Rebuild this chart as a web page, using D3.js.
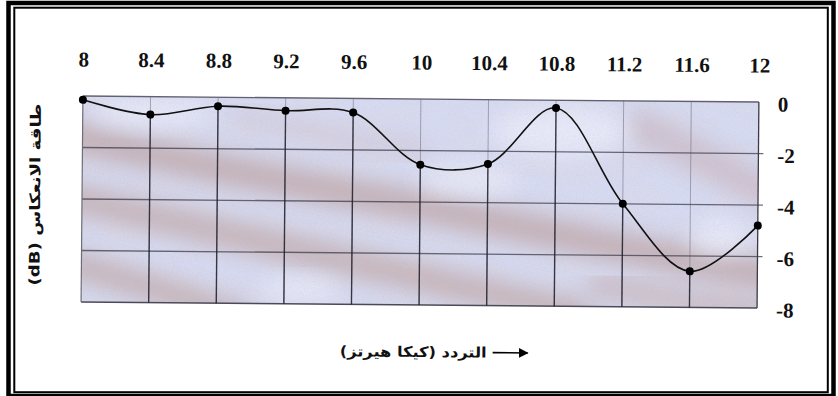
<!DOCTYPE html>
<html>
<head>
<meta charset="utf-8">
<script src="https://cdn.jsdelivr.net/npm/d3@7"></script>
<style>
  html, body { margin: 0; padding: 0; background: #ffffff; }
  svg { display: block; }
</style>
</head>
<body>
<svg id="chart" width="838" height="396"></svg>
<script>
// Return loss of the antenna across the X band
const freqGHz = [8, 8.4, 8.8, 9.2, 9.6, 10, 10.4, 10.8, 11.2, 11.6, 12];
const freqTickLabels = ["8", "8.4", "8.8", "9.2", "9.6", "10", "10.4", "10.8", "11.2", "11.6", "12"];
const returnLossDb = [-0.15, -0.7, -0.35, -0.5, -0.55, -2.55, -2.5, -0.3, -4.0, -6.6, -4.8];
const dbTicks = [0, -2, -4, -6, -8];
const dbTickLabels = ["0", "-2", "-4", "-6", "-8"];
const yTitle = "طاقة الانعكاس (dB)";
const xTitle = "التردد (كيكا هيرتز)";

const plot = { left: 82, right: 758, top: 99, bottom: 305 };

const svg = d3.select("#chart");
const defs = svg.append("defs");

defs.append("clipPath").attr("id", "plotClip")
  .append("rect")
  .attr("x", plot.left).attr("y", plot.top)
  .attr("width", plot.right - plot.left).attr("height", plot.bottom - plot.top);

const soft = defs.append("filter").attr("id", "soft")
  .attr("x", "-40%").attr("y", "-40%").attr("width", "180%").attr("height", "180%");
soft.append("feGaussianBlur").attr("stdDeviation", 11);

const grain = defs.append("filter").attr("id", "grain");
grain.append("feTurbulence").attr("type", "fractalNoise")
  .attr("baseFrequency", 0.9).attr("numOctaves", 1).attr("seed", 4);
grain.append("feColorMatrix").attr("type", "matrix")
  .attr("values", "0 0 0 0 0.45  0 0 0 0 0.40  0 0 0 0 0.55  1.3 0 0 0 -0.55");

const mottle = defs.append("filter").attr("id", "mottle");
mottle.append("feTurbulence").attr("type", "fractalNoise")
  .attr("baseFrequency", "0.02 0.05").attr("numOctaves", 2).attr("seed", 11);
mottle.append("feColorMatrix").attr("type", "matrix")
  .attr("values", "0 0 0 0 0.78  0 0 0 0 0.70  0 0 0 0 0.72  1.6 0 0 0 -0.7");

const arrowHead = defs.append("marker").attr("id", "arrowHead")
  .attr("viewBox", "0 0 10 10").attr("refX", 9).attr("refY", 5)
  .attr("markerWidth", 6.5).attr("markerHeight", 6)
  .attr("markerUnits", "strokeWidth").attr("orient", "auto");
arrowHead.append("path").attr("d", "M0,0 L10,5 L0,10 Z").attr("fill", "#000");

// Double page frame
svg.append("rect").attr("x", 8.5).attr("y", 3).attr("width", 825).attr("height", 393)
  .attr("fill", "none").attr("stroke", "#000").attr("stroke-width", 4.5);
svg.append("rect").attr("x", 14.3).attr("y", 7.7).attr("width", 813.5).attr("height", 384.5)
  .attr("fill", "none").attr("stroke", "#000").attr("stroke-width", 2);

// The chart body sits slightly tilted
const g = svg.append("g").attr("transform", "rotate(0.51, 420, 200)");

const x = d3.scaleLinear().domain([8, 12]).range([plot.left, plot.right]);
const y = d3.scaleLinear().domain([0, -8]).range([plot.top, plot.bottom]);

// Mottled paper background of the plot area
const bg = g.append("g").attr("clip-path", "url(#plotClip)");
bg.append("rect")
  .attr("x", plot.left).attr("y", plot.top)
  .attr("width", plot.right - plot.left).attr("height", plot.bottom - plot.top)
  .attr("fill", "#d7dbf1");

bg.append("rect")
  .attr("x", plot.left).attr("y", plot.top)
  .attr("width", plot.right - plot.left).attr("height", plot.bottom - plot.top)
  .attr("filter", "url(#mottle)").attr("opacity", 0.35);

const band = d3.line().curve(d3.curveBasis);
const bands = [
  { pts: [[30, 130], [200, 168], [330, 190], [450, 212], [600, 242], [720, 264], [820, 280]], w: 30, c: "#bea4a4", o: 0.78 },
  { pts: [[30, 192], [180, 225], [320, 256], [450, 284], [580, 312]], w: 28, c: "#bfa5a3", o: 0.72 },
  { pts: [[30, 255], [140, 286], [240, 318]], w: 26, c: "#bea4a2", o: 0.72 },
  { pts: [[640, 125], [710, 160], [790, 200]], w: 32, c: "#c6adb3", o: 0.55 },
  { pts: [[600, 285], [700, 302], [790, 312]], w: 26, c: "#c3aaaa", o: 0.6 },
  { pts: [[240, 118], [330, 138], [420, 150]], w: 18, c: "#cab3b9", o: 0.38 }
];
bg.selectAll("path.band").data(bands).join("path")
  .attr("class", "band")
  .attr("d", d => band(d.pts))
  .attr("fill", "none")
  .attr("stroke", d => d.c)
  .attr("stroke-width", d => d.w)
  .attr("stroke-linecap", "round")
  .attr("opacity", d => d.o)
  .attr("filter", "url(#soft)");

const highlights = [
  { cx: 150, cy: 115, rx: 60, ry: 14 },
  { cx: 560, cy: 130, rx: 70, ry: 25 },
  { cx: 470, cy: 180, rx: 50, ry: 14 },
  { cx: 720, cy: 235, rx: 30, ry: 18 },
  { cx: 300, cy: 290, rx: 40, ry: 12 }
];
bg.selectAll("ellipse").data(highlights).join("ellipse")
  .attr("cx", d => d.cx).attr("cy", d => d.cy)
  .attr("rx", d => d.rx).attr("ry", d => d.ry)
  .attr("fill", "#eceefa").attr("opacity", 0.75)
  .attr("filter", "url(#soft)");

bg.append("rect")
  .attr("x", plot.left).attr("y", plot.top)
  .attr("width", plot.right - plot.left).attr("height", plot.bottom - plot.top)
  .attr("filter", "url(#grain)").attr("opacity", 0.35);

// Grid: faint full-height verticals, horizontal dB lines
g.append("g").selectAll("line").data(freqGHz.slice(1, -1)).join("line")
  .attr("x1", d => x(d)).attr("x2", d => x(d))
  .attr("y1", plot.top).attr("y2", plot.bottom)
  .attr("stroke", "#6c6c7e").attr("stroke-width", 1).attr("opacity", 0.55);

g.append("g").selectAll("line").data(dbTicks.slice(1, -1)).join("line")
  .attr("x1", plot.left).attr("x2", plot.right + 5)
  .attr("y1", d => y(d)).attr("y2", d => y(d))
  .attr("stroke", "#3e3e4e").attr("stroke-width", 1.3).attr("opacity", 0.75);

// Plot border
const border = g.append("g").attr("fill", "none");
border.append("line").attr("x1", plot.left).attr("x2", plot.right).attr("y1", y(0)).attr("y2", y(0))
  .attr("stroke", "#606070").attr("stroke-width", 1.3);
border.append("line").attr("x1", plot.left).attr("x2", plot.right).attr("y1", y(-8)).attr("y2", y(-8))
  .attr("stroke", "#4a4a58").attr("stroke-width", 1.4);
border.append("line").attr("x1", x(8)).attr("x2", x(8)).attr("y1", y(0)).attr("y2", y(-8))
  .attr("stroke", "#6c6c7a").attr("stroke-width", 1.2);
border.append("line").attr("x1", x(12)).attr("x2", x(12)).attr("y1", y(0)).attr("y2", y(-8))
  .attr("stroke", "#3a3a46").attr("stroke-width", 1.3);

const pts = freqGHz.map((f, i) => ({ f, v: returnLossDb[i] }));

// Dark drop lines from each measured point down to the floor
g.append("g").selectAll("line").data(pts.slice(1, -1)).join("line")
  .attr("x1", d => x(d.f)).attr("x2", d => x(d.f))
  .attr("y1", d => y(d.v)).attr("y2", plot.bottom)
  .attr("stroke", "#1c1c26").attr("stroke-width", 1.4).attr("opacity", 0.8);

// Measured curve
g.append("path")
  .datum(pts)
  .attr("d", d3.line().x(d => x(d.f)).y(d => y(d.v)).curve(d3.curveCatmullRom.alpha(0.5)))
  .attr("fill", "none")
  .attr("stroke", "#111")
  .attr("stroke-width", 1.6);

g.append("g").selectAll("circle").data(pts).join("circle")
  .attr("cx", d => x(d.f)).attr("cy", d => y(d.v))
  .attr("r", 4)
  .attr("fill", "#000");

// Frequency labels along the top
const xAxis = g.append("g")
  .attr("transform", `translate(0,${plot.top})`)
  .call(d3.axisTop(x).tickValues(freqGHz).tickSize(0).tickPadding(29.5)
    .tickFormat((d, i) => freqTickLabels[i]));
xAxis.select(".domain").remove();
xAxis.selectAll("text")
  .attr("font-family", "'Liberation Serif', 'Times New Roman', serif")
  .attr("font-weight", "bold").attr("font-size", 21).attr("fill", "#111");

// dB labels on the right
const yAxis = g.append("g")
  .attr("transform", `translate(${plot.right},0)`)
  .call(d3.axisRight(y).tickValues(dbTicks).tickSize(0).tickPadding(19)
    .tickFormat((d, i) => dbTickLabels[i]));
yAxis.select(".domain").remove();
yAxis.selectAll("text")
  .attr("dy", "0.42em")
  .attr("font-family", "'Liberation Serif', 'Times New Roman', serif")
  .attr("font-weight", "bold").attr("font-size", 21).attr("fill", "#111");

// Axis titles
g.append("text")
  .attr("transform", "translate(40,198) rotate(-90) scale(1.25,1)")
  .attr("text-anchor", "middle")
  .attr("direction", "rtl")
  .attr("font-family", "'DejaVu Sans', sans-serif")
  .attr("font-weight", "bold").attr("font-size", 14.5).attr("fill", "#111")
  .text(yTitle);

g.append("text")
  .attr("transform", "translate(488,357) scale(1.12,1)")
  .attr("text-anchor", "start")
  .attr("direction", "rtl")
  .attr("font-family", "'DejaVu Sans', sans-serif")
  .attr("font-weight", "bold").attr("font-size", 14.5).attr("fill", "#111")
  .text(xTitle);

g.append("line")
  .attr("x1", 494).attr("x2", 529).attr("y1", 352).attr("y2", 352)
  .attr("stroke", "#000").attr("stroke-width", 1.6)
  .attr("marker-end", "url(#arrowHead)");
</script>
</body>
</html>
